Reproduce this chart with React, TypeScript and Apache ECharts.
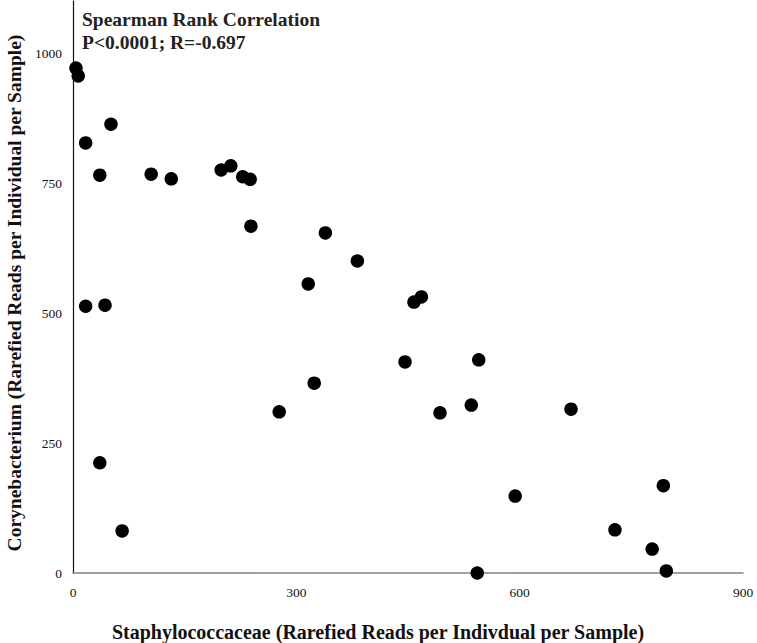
import React, { useEffect, useRef } from "react";
import * as echarts from "echarts";

const staphX = [4, 7, 17, 51, 36, 105, 132, 199, 212, 228, 238, 239, 339, 382, 316, 17, 43, 468, 458, 446, 545, 324, 277, 493, 535, 669, 36, 66, 543, 594, 728, 778, 793, 797];
const coryY = [971, 956, 827, 863, 765, 767, 758, 775, 783, 762, 757, 667, 654, 600, 556, 513, 515, 531, 521, 406, 410, 365, 310, 308, 323, 315, 212, 81, 0, 148, 83, 46, 168, 4];
const titleLines = ["Spearman Rank Correlation", "P<0.0001; R=-0.697"];
const xName = "Staphylococcaceae (Rarefied Reads per Indivdual per Sample)";
const yName = "Corynebacterium (Rarefied Reads per Individual per Sample)";

const FONT = "'Liberation Serif', 'Times New Roman', serif";

export default function App() {
  const ref = useRef<HTMLDivElement>(null);
  useEffect(() => {
    if (!ref.current) return;
    const chart = echarts.init(ref.current, undefined, { renderer: "svg" });
    const data = staphX.map((x, i) => [x, coryY[i]]);
    chart.setOption({
      animation: false,
      backgroundColor: "#fff",
      textStyle: { fontFamily: FONT },
      title: {
        text: titleLines.join("\n"),
        left: 77,
        top: 3,
        textStyle: { fontFamily: FONT, fontWeight: "bold", fontSize: 19.5, color: "#222", lineHeight: 23 },
      },
      grid: { left: 73, right: 14, top: 1, bottom: 70 },
      xAxis: {
        type: "value",
        min: 0,
        max: 900,
        interval: 300,
        axisLine: { show: true, lineStyle: { color: "#808080", width: 1.5 } },
        axisTick: { show: false },
        splitLine: { show: false },
        axisLabel: { fontFamily: FONT, fontSize: 13.5, color: "#111", margin: 12, formatter: (v: number) => String(v) },
      },
      yAxis: {
        type: "value",
        min: 0,
        max: 1100,
        interval: 250,
        axisLine: { show: true, lineStyle: { color: "#111", width: 1.2 } },
        axisTick: { show: false },
        splitLine: { show: false },
        axisLabel: { fontFamily: FONT, fontSize: 13.5, color: "#111", margin: 11, showMaxLabel: false, formatter: (v: number) => String(v) },
      },
      graphic: [
        {
          type: "text",
          x: 378,
          y: 632,
          style: {
            text: xName,
            font: `bold 20px ${FONT}`,
            fill: "#111",
            textAlign: "center",
            textVerticalAlign: "middle",
          },
        },
        {
          type: "text",
          x: 14,
          y: 293,
          rotation: Math.PI / 2,
          style: {
            text: yName,
            font: `bold 19.5px ${FONT}`,
            fill: "#111",
            textAlign: "center",
            textVerticalAlign: "middle",
          },
        },
      ],
      series: [
        {
          type: "scatter",
          data,
          symbol: "circle",
          symbolSize: 13.5,
          itemStyle: { color: "#000", opacity: 1 },
        },
      ],
    });
    return () => chart.dispose();
  }, []);
  return <div ref={ref} style={{ width: 757, height: 643, position: "absolute", left: 0, top: 0 }} />;
}
